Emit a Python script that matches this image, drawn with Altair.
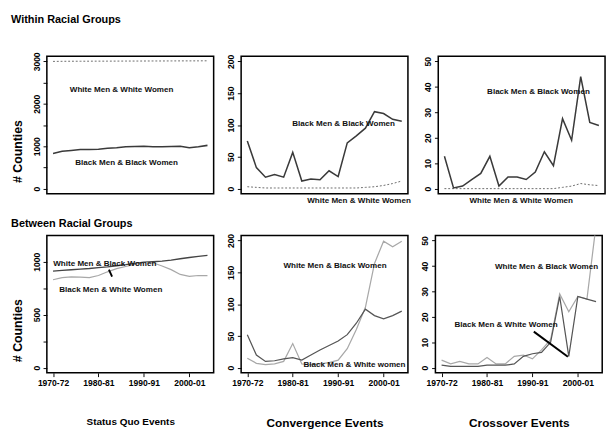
import altair as alt
import pandas as pd

# ---------------- data ----------------
years = list(range(1971, 2006, 2))
x_tick_values = [1971, 1981, 1991, 2001]
x_tick_labels = ["1970-72", "1980-81", "1990-91", "2000-01"]

# Within racial groups
sq_white_white = [3000, 3002, 3004, 3004, 3005, 3006, 3006, 3007, 3008, 3008, 3009, 3010, 3010, 3011, 3012, 3012, 3013, 3014]
sq_black_black = [830, 880, 900, 920, 925, 930, 950, 965, 985, 995, 1000, 990, 985, 995, 1000, 965, 990, 1020]
cv_black_black = [75, 33, 18, 22, 18, 57, 12, 15, 14, 28, 19, 72, 83, 95, 121, 118, 109, 106]
cv_white_white = [3, 2, 1, 1, 1, 1, 1, 1, 1, 1, 1, 1, 1, 2, 3, 5, 8, 12]
co_black_black = [12.7, 0.3, 1, 3.5, 6, 12.7, 1, 4.6, 4.6, 3.6, 6.5, 14.5, 9, 27.5, 19, 44, 26, 24.8]
co_white_white = [0, 0, 0, 0, 0, 0, 0, 0, 0, 0, 0, 0, 0, 0.5, 1, 2, 1.5, 1.2]

# Between racial groups
sq_wm_bw = [912, 918, 924, 930, 936, 944, 952, 962, 972, 984, 995, 1000, 1005, 1015, 1028, 1040, 1050, 1060]
sq_bm_ww = [830, 850, 858, 855, 850, 870, 905, 935, 955, 975, 995, 990, 960, 925, 880, 862, 870, 868]
cv_wm_bw = [15, 7, 5, 6, 10, 38, 6, 5, 6, 8, 12, 30, 60, 95, 164, 199, 190, 199]
cv_bm_ww = [52, 20, 10, 11, 14, 16, 12, 20, 28, 35, 42, 52, 70, 92, 82, 77, 82, 89]
co_wm_bw = [3, 1.5, 2.5, 1.5, 1.5, 4, 1.5, 1.5, 4.5, 5, 3.5, 7, 11, 29, 22, 28, 27, 56]
co_bm_ww = [1, 0.5, 0.5, 0.5, 0.5, 1, 1, 1, 1.5, 4.5, 5.5, 6, 10, 28, 4.5, 28, 27, 26]

# in-plot labels
label_panel = ["sq_w", "sq_w", "cv_w", "cv_w", "co_w", "co_w",
               "sq_b", "sq_b", "cv_b", "cv_b", "co_b", "co_b"]
label_text = ["White Men & White Women", "Black Men & Black Women",
              "Black Men & Black Women", "White Men & White Women",
              "Black Men & Black Women", "White Men & White Women",
              "White Men & Black Women", "Black Men & White Women",
              "White Men & Black Women", "Black Men & White women",
              "White Men & Black Women", "Black Men & White Women"]
label_x = [1986.1, 1987.2, 1992.2, 1995.6, 1991.7, 1987.9,
           1982.4, 1983.7, 1990.3, 1994.6, 1994.1, 1985.2]
label_y = [2334, 630, 102.5, -17.6, 38.2, -4.4,
           985, 744, 161.6, 6, 40.1, 17.3]

# pointer segments (annotation arrows)
pointer_panel = ["sq_b", "co_b"]
pointer_x = [1983.3, 1991.3]
pointer_y = [925, 14.2]
pointer_x2 = [1984.0, 1998.8]
pointer_y2 = [860, 4.3]

# column / row titles
col_titles = ["Status Quo Events", "Convergence Events", "Crossover Events"]
row_titles = ["Within Racial Groups", "Between Racial Groups"]

# ---------------- tables ----------------
rows = []
def add(panel, series, vals):
    for yr, v in zip(years, vals):
        rows.append(dict(panel=panel, series=series, year=yr, value=v))

add("sq_w", "ww", sq_white_white); add("sq_w", "bb", sq_black_black)
add("cv_w", "ww", cv_white_white); add("cv_w", "bb", cv_black_black)
add("co_w", "ww", co_white_white); add("co_w", "bb", co_black_black)
add("sq_b", "wmbw", sq_wm_bw); add("sq_b", "bmww", sq_bm_ww)
add("cv_b", "wmbw", cv_wm_bw); add("cv_b", "bmww", cv_bm_ww)
add("co_b", "wmbw", co_wm_bw); add("co_b", "bmww", co_bm_ww)
df = pd.DataFrame(rows)

labels = pd.DataFrame(dict(panel=label_panel, text=label_text, x=label_x, y=label_y))
pointers = pd.DataFrame(dict(panel=pointer_panel, x=pointer_x, y=pointer_y,
                             x2=pointer_x2, y2=pointer_y2))

SANS = "Liberation Sans, Arial, sans-serif"

DARK = dict(color="#444444", strokeWidth=1.4)
LIGHT = dict(color="#a8a8a8", strokeWidth=1.3)
styles = {
    "ww": dict(color="#666666", strokeDash=[2, 2], strokeWidth=1.0),
    "bb": dict(color="#3a3a3a", strokeWidth=1.6),
    "wmbw": LIGHT,
    "bmww": dict(color="#555555", strokeWidth=1.3),
}
panel_styles = {"sq_b": {"wmbw": DARK, "bmww": LIGHT}}

x_expr = "".join(f"datum.value == {v} ? '{l}' : " for v, l in zip(x_tick_values, x_tick_labels)) + "''"
X_DOMAIN = [1969.64, 2006.36]
W, H = 176, 145


def panel(key, ydom, yticks, ylabs, bottom=False, col_title=None, col_size=13, first=False):
    xscale = alt.Scale(domain=X_DOMAIN, nice=False, zero=False)
    yscale = alt.Scale(domain=ydom, nice=False, zero=False)
    if bottom:
        xaxis = alt.Axis(values=x_tick_values, labelExpr=x_expr, title=col_title,
                         grid=False, domain=False, ticks=True, tickSize=4, tickColor="black",
                         labelFont=SANS, labelFontSize=9, labelFontWeight="bold",
                         labelColor="black", labelPadding=2, labelOverlap=False, labelFlush=False,
                         titleFont=SANS, titleFontSize=col_size, titleFontWeight="bold",
                         titleColor="black", titlePadding=32)
    else:
        xaxis = None
    lab_list = "[" + ",".join(str(v) for v in ylabs) + "]"
    yaxis_kw = dict(values=yticks, format="d",
                    labelExpr=f"indexof({lab_list}, datum.value) >= 0 ? datum.label : ''",
                    grid=False, domain=False, ticks=True, tickSize=4, tickColor="black",
                    labelAngle=270, labelAlign="center", labelBaseline="bottom",
                    labelFont=SANS, labelFontSize=9, labelFontWeight="bold",
                    labelColor="black", labelPadding=2, labelOverlap=False, labelFlush=False)
    if first:
        yaxis = alt.Axis(title="# Counties", titleFont=SANS, titleFontSize=13,
                         titleFontWeight="bold", titleColor="black", titleAngle=270,
                         titleX=-31, titleY=100, titleAlign="center", titleBaseline="middle",
                         **yaxis_kw)
    else:
        yaxis = alt.Axis(title=None, **yaxis_kw)

    layers = []
    sub = df[df.panel == key]
    st = dict(styles)
    st.update(panel_styles.get(key, {}))
    for s in sub.series.unique():
        layers.append(
            alt.Chart(sub[sub.series == s]).mark_line(clip=True, **st[s]).encode(
                x=alt.X("year:Q", scale=xscale, axis=xaxis),
                y=alt.Y("value:Q", scale=yscale, axis=yaxis),
            )
        )
    p = pointers[pointers.panel == key]
    if len(p):
        layers.append(
            alt.Chart(p).mark_rule(color="black", strokeWidth=2).encode(
                x=alt.X("x:Q", scale=xscale, axis=xaxis),
                y=alt.Y("y:Q", scale=yscale, axis=yaxis),
                x2="x2:Q", y2="y2:Q",
            )
        )
    lab = labels[labels.panel == key]
    layers.append(
        alt.Chart(lab).mark_text(font=SANS, fontSize=8.5, fontWeight="bold", color="#111111").encode(
            x=alt.X("x:Q", scale=xscale, axis=xaxis),
            y=alt.Y("y:Q", scale=yscale, axis=yaxis),
            text="text:N",
        )
    )
    return alt.layer(*layers).properties(width=W, height=H)


top = alt.hconcat(
    panel("sq_w", [-120, 3120], list(range(0, 3001, 500)), [0, 1000, 2000, 3000], first=True),
    panel("cv_w", [-8, 208], list(range(0, 201, 50)), list(range(0, 201, 50))),
    panel("co_w", [-2, 52], list(range(0, 51, 10)), list(range(0, 51, 10))),
    spacing=12,
    title=alt.TitleParams(row_titles[0], anchor="start", font=SANS, fontSize=11.5,
                          fontWeight="bold", color="black", offset=27),
)
bottom = alt.hconcat(
    panel("sq_b", [-48, 1248], list(range(0, 1001, 250)), [0, 500, 1000], bottom=True,
          col_title=col_titles[0], col_size=10.5, first=True),
    panel("cv_b", [-8, 208], list(range(0, 201, 50)), list(range(0, 201, 50)), bottom=True,
          col_title=col_titles[1], col_size=12.5),
    panel("co_b", [-2, 52], list(range(0, 51, 10)), list(range(0, 51, 10)), bottom=True,
          col_title=col_titles[2], col_size=12.5),
    spacing=12,
    title=alt.TitleParams(row_titles[1], anchor="start", font=SANS, fontSize=11.5,
                          fontWeight="bold", color="black", offset=3),
)

chart = alt.vconcat(top, bottom, spacing=14).properties(
    padding={"left": 3, "top": -5, "right": 0, "bottom": 0}
).configure(background="white").configure_view(stroke="black", strokeWidth=1.6)

chart.save("out.html", embed_options={"renderer": "svg", "actions": False})
